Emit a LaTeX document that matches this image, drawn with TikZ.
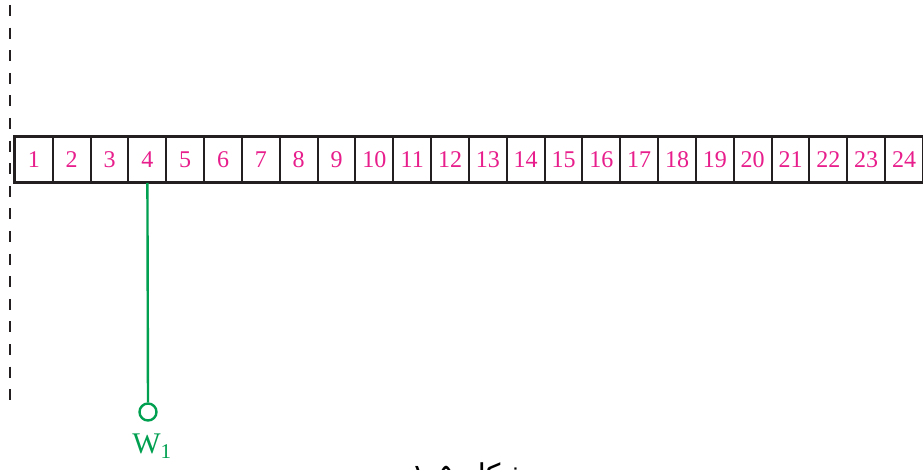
\documentclass[tikz,border=0pt]{standalone}
\usepackage{fontspec}
\setmainfont{Liberation Serif}
\newfontfamily\arabicfont[Script=Arabic]{DejaVu Sans}
\TeXXeTstate=1
\definecolor{numpink}{RGB}{232,30,140}
\definecolor{wgreen}{RGB}{0,160,80}
\definecolor{boxline}{RGB}{35,31,32}
\tikzset{
  cellbox/.style={draw=boxline, line width=2pt, minimum width=37.83pt, minimum height=45pt,
    inner sep=0pt, text=numpink, font=\fontsize{24}{24}\selectfont},
  wire/.style={draw=wgreen, line width=2.4pt},
  term/.style={circle, draw=wgreen, line width=2.4pt, minimum size=17pt, inner sep=0pt},
  sideline/.style={draw=boxline, line width=2.4pt, dash pattern=on 11pt off 11.6pt}
}
\begin{document}
\begin{tikzpicture}[x=1pt,y=-1pt]
\useasboundingbox (0,0) rectangle (923,470);
\clip (0,0) rectangle (923,470);
\fill[white] (0,0) rectangle (923,470);
% dashed vertical line
\coordinate (dtop) at (10,5);
\coordinate (dbot) at (10,410);
\draw[sideline] (dtop) -- (dbot);
% cells
\foreach \i in {1,...,24}{
  \node[cellbox] (c\i) at ({15+37.83*(\i-0.5)},159.5) {\i};
}
\draw[draw=boxline, line width=2.6pt] (c1.north west) rectangle (c24.south east);
% terminal W1
\node[term] (w) at (148,412) {};
\draw[wire] (c4.south) -- (w.north);
\node[text=wgreen, font=\fontsize{30}{30}\selectfont, anchor=base] (wl) at (152,453) {W\textsubscript{\fontsize{21}{21}\selectfont 1}};
% caption (clipped at the lower edge, as in the reference)
\node[font=\arabicfont\fontsize{30}{30}\selectfont, anchor=base] (cap) at (470,485) {\beginR شکل \beginL ۱-۵\endL\endR};
\end{tikzpicture}
\end{document}
